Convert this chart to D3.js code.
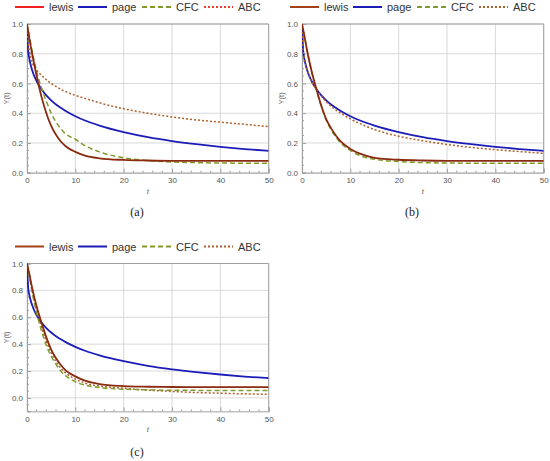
<!DOCTYPE html>
<html>
<head>
<meta charset="utf-8">
<script src="https://cdn.jsdelivr.net/npm/d3@7"></script>
<style>
  body { margin: 0; background: #fff; }
  text { font-family: "Liberation Sans", Arial, sans-serif; }
</style>
</head>
<body>
<svg id="chart" width="550" height="461"></svg>
<script>
// sample times shared by every curve
var tVals = [0, 0.25, 0.5, 1, 2, 3, 4, 5, 6, 7, 8, 10, 12, 15, 20, 25, 30, 35, 40, 45, 50];

// page model is the same in all three panels
var pageY = [1.0, 0.818, 0.764, 0.696, 0.615, 0.561, 0.52, 0.487, 0.459, 0.436, 0.415, 0.38, 0.351, 0.317, 0.273, 0.239, 0.213, 0.192, 0.174, 0.159, 0.147];

// panel (a)
var lewisA = [1.0, 0.95, 0.9, 0.81, 0.65, 0.51, 0.4, 0.315, 0.255, 0.21, 0.178, 0.14, 0.115, 0.097, 0.086, 0.082, 0.08, 0.08, 0.08, 0.08, 0.08];
var cfcA = [1.0, 0.96, 0.92, 0.83, 0.68, 0.57, 0.48, 0.4, 0.34, 0.295, 0.26, 0.225, 0.182, 0.14, 0.1, 0.082, 0.072, 0.068, 0.065, 0.064, 0.063];
var abcA = [1.0, 0.87, 0.82, 0.75, 0.69, 0.655, 0.625, 0.6, 0.58, 0.56, 0.545, 0.52, 0.5, 0.47, 0.43, 0.4, 0.375, 0.355, 0.34, 0.325, 0.31];

// panel (b)
var lewisB = [1.0, 0.96, 0.92, 0.83, 0.68, 0.56, 0.45, 0.36, 0.3, 0.25, 0.21, 0.16, 0.128, 0.1, 0.087, 0.082, 0.08, 0.08, 0.08, 0.08, 0.08];
var cfcB = [1.0, 0.96, 0.92, 0.83, 0.68, 0.555, 0.445, 0.355, 0.29, 0.24, 0.2, 0.15, 0.115, 0.09, 0.075, 0.068, 0.065, 0.064, 0.063, 0.063, 0.063];
var abcB = [1.0, 0.82, 0.77, 0.7, 0.615, 0.56, 0.515, 0.478, 0.448, 0.422, 0.4, 0.362, 0.33, 0.29, 0.245, 0.215, 0.19, 0.17, 0.155, 0.142, 0.13];

// panel (c)
var lewisC = [1.0, 0.96, 0.92, 0.83, 0.68, 0.56, 0.45, 0.36, 0.295, 0.245, 0.205, 0.16, 0.128, 0.103, 0.088, 0.083, 0.081, 0.08, 0.08, 0.08, 0.08];
var cfcC = [1.0, 0.95, 0.9, 0.8, 0.63, 0.5, 0.39, 0.31, 0.25, 0.2, 0.165, 0.12, 0.095, 0.077, 0.065, 0.06, 0.057, 0.056, 0.055, 0.055, 0.055];
var abcC = [1.0, 0.955, 0.91, 0.81, 0.65, 0.525, 0.42, 0.335, 0.27, 0.22, 0.185, 0.14, 0.11, 0.088, 0.072, 0.058, 0.048, 0.04, 0.035, 0.03, 0.027];

var seriesNames = ["lewis", "page", "CFC", "ABC"];
var xTicks = [0, 10, 20, 30, 40, 50];
var yTicks = [0.0, 0.2, 0.4, 0.6, 0.8, 1.0];
var captions = ["(a)", "(b)", "(c)"];

var colLewis = "#8a2b10", colPage = "#1c1cb8", colCfc = "#7f9a2c", colAbc = "#b0602a";

var svg = d3.select("#chart");

var panels = [
    { x: 0, y: 0, ymin: 0, cap: captions[0],
      ys: [lewisA, pageY, cfcA, abcA],
      legendCols: ["#f02020", colPage, colCfc, "#f03a2a"] },
    { x: 275, y: 0, ymin: 0, cap: captions[1],
      ys: [lewisB, pageY, cfcB, abcB],
      legendCols: ["#a3401a", colPage, colCfc, colAbc] },
    { x: 0, y: 239.5, ymin: -0.1, cap: captions[2],
      ys: [lewisC, pageY, cfcC, abcC],
      legendCols: ["#a3401a", colPage, colCfc, colAbc] }
];

var curveCols = [colLewis, colPage, colCfc, colAbc];
var dashes = [null, null, "5,3", "2,2"];
var widths = [1.8, 1.8, 1.5, 1.5];

panels.forEach(function (p) {
    var g = svg.append("g").attr("transform", "translate(" + p.x + "," + p.y + ")");

    var x = d3.scaleLinear().domain([0, 50]).range([27, 268.7]);
    var top = 24, bottom = 172.7;
    var perUnit = (bottom - top);
    if (p.ymin < 0) perUnit = 134.4;
    var y = d3.scaleLinear().domain([p.ymin, 1]).range([top + perUnit * (1 - p.ymin), top]);
    var yBottom = y(p.ymin);

    // grid
    g.selectAll(".gx").data(xTicks).enter().append("line")
        .attr("x1", d => x(d)).attr("x2", d => x(d))
        .attr("y1", top).attr("y2", yBottom)
        .attr("stroke", "#cfcfcf").attr("stroke-width", 0.8);
    g.selectAll(".gy").data(yTicks).enter().append("line")
        .attr("x1", x(0)).attr("x2", x(50))
        .attr("y1", d => y(d)).attr("y2", d => y(d))
        .attr("stroke", "#cfcfcf").attr("stroke-width", 0.8);

    // frame with Mathematica style inward ticks
    var xAxis = d3.axisBottom(x).tickValues(xTicks).tickSize(-4).tickPadding(5).tickFormat(d3.format("d"));
    var yAxis = d3.axisLeft(y).tickValues(yTicks).tickSize(-4).tickPadding(4).tickFormat(d3.format(".1f"));
    var gx = g.append("g").attr("transform", "translate(0," + yBottom + ")").call(xAxis);
    var gy = g.append("g").attr("transform", "translate(" + x(0) + ",0)").call(yAxis);
    [gx, gy].forEach(function (ax) {
        ax.select(".domain").attr("stroke", "#a0a0a0");
        ax.selectAll(".tick line").attr("stroke", "#a0a0a0");
        ax.selectAll("text").attr("fill", "#555").style("font-size", "8px");
    });
    g.append("line").attr("x1", x(0)).attr("x2", x(50)).attr("y1", top).attr("y2", top).attr("stroke", "#a0a0a0");
    g.append("line").attr("x1", x(50)).attr("x2", x(50)).attr("y1", top).attr("y2", yBottom).attr("stroke", "#a0a0a0");

    // minor ticks
    var minorX = d3.range(0, 51, 2).filter(d => d % 10 !== 0);
    g.selectAll(".mx").data(minorX).enter().append("line")
        .attr("x1", d => x(d)).attr("x2", d => x(d))
        .attr("y1", yBottom).attr("y2", yBottom - 2)
        .attr("stroke", "#a0a0a0");
    var minorY = d3.range(Math.round(p.ymin * 20), 21).map(d => d / 20).filter(d => Math.round(d * 20) % 4 !== 0);
    g.selectAll(".my").data(minorY).enter().append("line")
        .attr("x1", x(0)).attr("x2", x(0) + 2)
        .attr("y1", d => y(d)).attr("y2", d => y(d))
        .attr("stroke", "#a0a0a0");

    // curves
    var clipId = "clip" + p.x + "_" + Math.round(p.y);
    g.append("clipPath").attr("id", clipId).append("rect")
        .attr("x", x(0)).attr("y", top - 1).attr("width", x(50) - x(0)).attr("height", yBottom - top + 1);
    var line = d3.line()
        .x(d => x(d[0])).y(d => y(d[1]))
        .curve(d3.curveMonotoneX);
    var order = [1, 3, 2, 0];
    order.forEach(function (i) {
        var pts = tVals.map((t, k) => [t, p.ys[i][k]]);
        g.append("path").datum(pts)
            .attr("clip-path", "url(#" + clipId + ")")
            .attr("d", line)
            .attr("fill", "none")
            .attr("stroke", curveCols[i])
            .attr("stroke-width", widths[i])
            .attr("stroke-dasharray", dashes[i]);
    });

    // axis labels
    g.append("text").attr("transform", "translate(9," + ((top + yBottom) / 2) + ") rotate(-90)")
        .attr("text-anchor", "middle").attr("fill", "#666").style("font-size", "7.5px").text("Y(t)");
    g.append("text").attr("x", (x(0) + x(50)) / 2).attr("y", yBottom + 21)
        .attr("text-anchor", "middle").attr("fill", "#666").style("font-size", "8px")
        .style("font-style", "italic").text("t");

    // legend
    var lx = [15, 78, 142, 204];
    seriesNames.forEach(function (name, i) {
        g.append("line").attr("x1", lx[i]).attr("x2", lx[i] + 29)
            .attr("y1", 7).attr("y2", 7)
            .attr("stroke", p.legendCols[i]).attr("stroke-width", 2)
            .attr("stroke-dasharray", dashes[i]);
        g.append("text").attr("x", lx[i] + 34).attr("y", 11)
            .attr("fill", "#333").style("font-size", "11px").text(name);
    });

    // caption
    g.append("text").attr("x", 137).attr("y", 216)
        .attr("text-anchor", "middle").attr("fill", "#222")
        .style("font-family", "'Liberation Serif', serif").style("font-size", "12px")
        .text(p.cap);
});
</script>
</body>
</html>
